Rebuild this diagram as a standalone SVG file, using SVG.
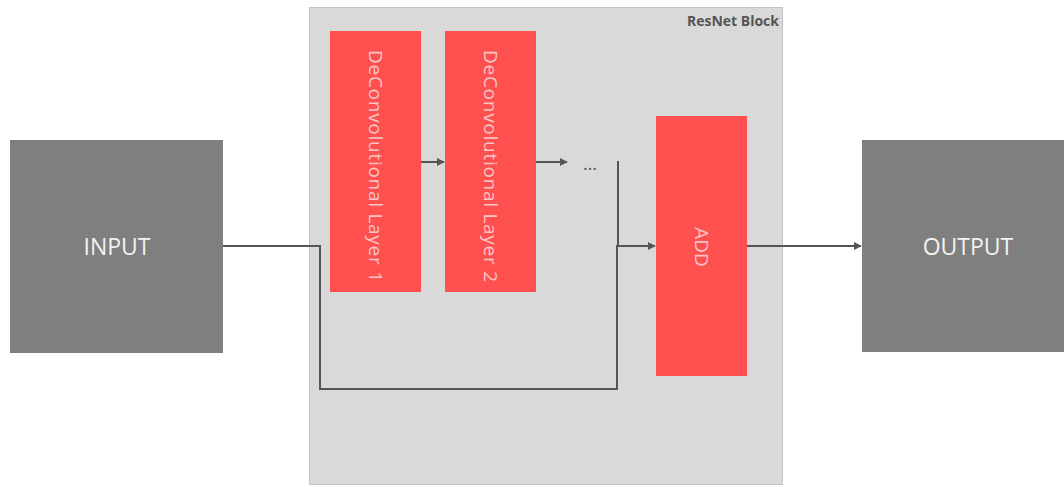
<svg xmlns="http://www.w3.org/2000/svg" width="1064" height="487" viewBox="0 0 1064 487">
  <defs>
    <marker id="arrow" viewBox="0 0 10 10" refX="9" refY="5" markerWidth="8" markerHeight="8" orient="auto" markerUnits="userSpaceOnUse">
      <path d="M0,0 L10,5 L0,10 z" fill="#555"/>
    </marker>
    <style>
      .io { fill: #7f7f7f; }
      .io-text { fill: #f2f2f2; font-family: "Open Sans", "Liberation Sans", sans-serif; font-size: 23px; text-anchor: middle; dominant-baseline: central; }
      .layer { fill: #ff5050; }
      .layer-text { fill: #f8c4c4; font-family: "Open Sans", "Liberation Sans", sans-serif; font-size: 19px; text-anchor: middle; dominant-baseline: central; }
      .link { fill: none; stroke: #555; stroke-width: 2; }
    </style>
  </defs>

  <rect width="1064" height="487" fill="#ffffff"/>

  <!-- residual block container -->
  <g id="resnet-block">
    <rect x="309.5" y="7.5" width="473" height="477" fill="#d9d9d9" stroke="#c4c4c4" stroke-width="1"/>
    <text x="779" y="26" fill="#555" font-family="Open Sans, Liberation Sans, sans-serif" font-size="14" font-weight="bold" text-anchor="end">ResNet Block</text>
  </g>

  <g id="input">
    <rect class="io" x="10" y="140" width="213" height="213"/>
    <text class="io-text" x="117" y="246">INPUT</text>
  </g>

  <g id="output">
    <rect class="io" x="862" y="140" width="210" height="212"/>
    <text class="io-text" x="968" y="246">OUTPUT</text>
  </g>

  <g id="deconv1">
    <rect class="layer" x="330" y="31" width="91" height="261"/>
    <text class="layer-text" transform="translate(375.5 166) rotate(90)" textLength="232">DeConvolutional Layer 1</text>
  </g>

  <g id="deconv2">
    <rect class="layer" x="445" y="31" width="91" height="261"/>
    <text class="layer-text" transform="translate(490.5 166) rotate(90)" textLength="232">DeConvolutional Layer 2</text>
  </g>

  <g id="ellipsis">
    <text x="590" y="170" fill="#555" font-family="Open Sans, Liberation Sans, sans-serif" font-size="18" text-anchor="middle">…</text>
  </g>

  <g id="add">
    <rect class="layer" x="656" y="116" width="91" height="260"/>
    <text class="layer-text" transform="translate(702 247) rotate(90)">ADD</text>
  </g>

  <g id="connectors">
    <path class="link" d="M421,162 H444" marker-end="url(#arrow)"/>
    <path class="link" d="M536,162 H567" marker-end="url(#arrow)"/>
    <path class="link" d="M618,161 V246"/>
    <path class="link" d="M223,246 H320 V389 H617 V246 H655" marker-end="url(#arrow)"/>
    <path class="link" d="M747,246 H861" marker-end="url(#arrow)"/>
  </g>
</svg>
